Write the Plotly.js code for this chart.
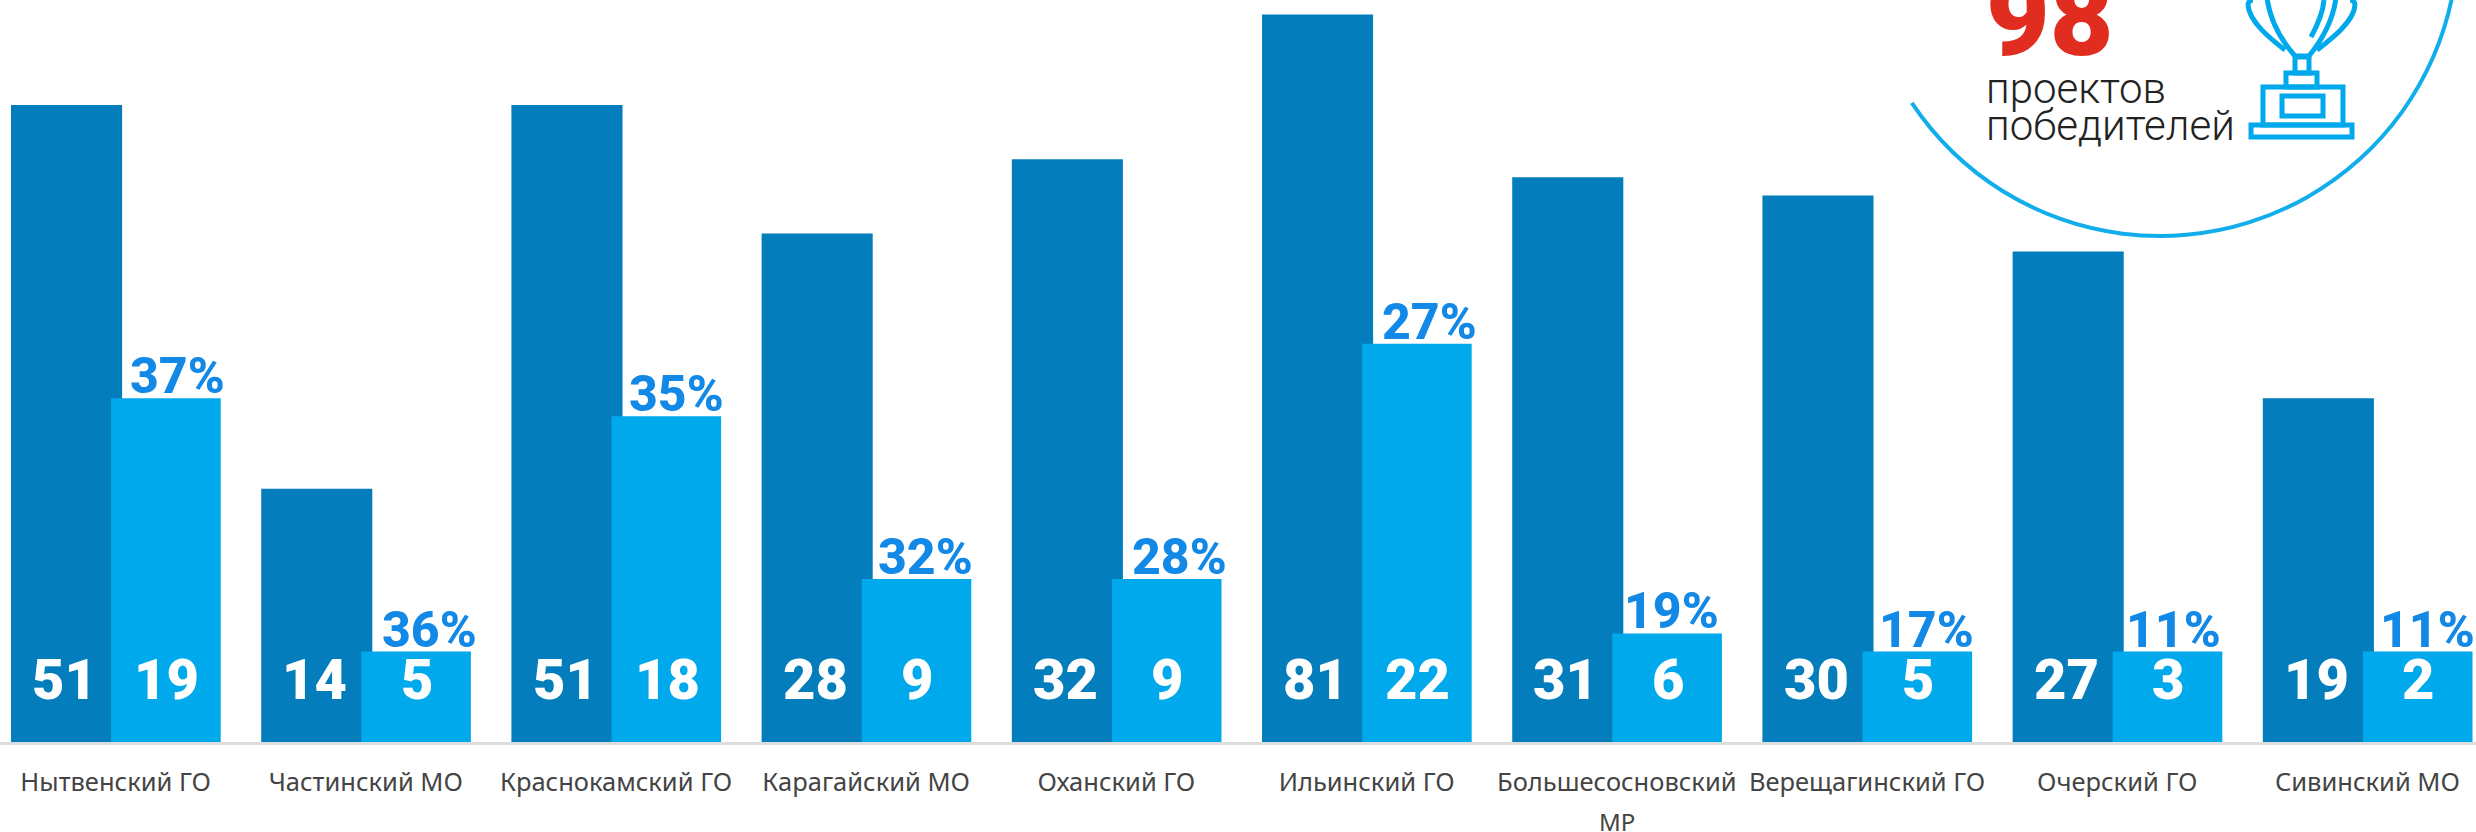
<!DOCTYPE html>
<html><head><meta charset="utf-8">
<script src="https://cdn.plot.ly/plotly-3.0.1.min.js"></script>
<style>html,body{margin:0;padding:0;background:#fff;overflow:hidden}</style></head>
<body><div id="c" style="width:2476px;height:832px"></div>
<script>
const categories = ["Нытвенский ГО","Частинский МО","Краснокамский ГО","Карагайский МО","Оханский ГО","Ильинский ГО","Большесосновский","Верещагинский ГО","Очерский ГО","Сивинский МО"];
// numbers printed on the bars
const submittedLabels = [51,14,51,28,32,81,31,30,27,19];
const winnerLabels = [19,5,18,9,9,22,6,5,3,2];
const sharePercent = [37,36,35,32,28,27,19,17,11,11];
// drawn bar heights (the reference truncates the tall bars and pads the short ones)
const submittedHeights = [35.2,14,35.2,28.1,32.2,40.2,31.2,30.2,27.1,19];
const winnerHeights = [19,5,18,9,9,22,6,5,5,5];
const shareShift = [11,13,9,8,12,12,4,8,5,9];

const W=2476, PH=742, BLUE='#00A9EC', DARK='#037DBB';
const X=p=>(p/W).toFixed(5), Y=p=>(1-p/PH).toFixed(5);
const line=(pts,close)=>pts.map((p,i)=>(i?'L':'M')+X(p[0])+','+Y(p[1])).join(' ')+(close?' Z':'');
const rect=(a,b,c,d)=>line([[a,b],[c,b],[c,d],[a,d]],true);
const cub=(a,b,c,d)=>'M'+X(a[0])+','+Y(a[1])+' C'+X(b[0])+','+Y(b[1])+' '+X(c[0])+','+Y(c[1])+' '+X(d[0])+','+Y(d[1]);
function arc(cx,cy,r,a0,a1){let s='',n=12,da=(a1-a0)/n,k=4/3*Math.tan(da/4);
  for(let i=0;i<n;i++){const t=a0+i*da,u=t+da,
    p0=[cx+r*Math.cos(t),cy+r*Math.sin(t)],p3=[cx+r*Math.cos(u),cy+r*Math.sin(u)],
    p1=[p0[0]-k*r*Math.sin(t),p0[1]+k*r*Math.cos(t)],p2=[p3[0]+k*r*Math.sin(u),p3[1]-k*r*Math.cos(u)];
    s+=(i?'':'M'+X(p0[0])+','+Y(p0[1]))+' C'+X(p1[0])+','+Y(p1[1])+' '+X(p2[0])+','+Y(p2[1])+' '+X(p3[0])+','+Y(p3[1]);}
  return s;}
const stroke=(path,w,c)=>({type:'path',xref:'paper',yref:'paper',path,line:{color:c||BLUE,width:w},layer:'above'});

const traces=[
 {type:'bar',x:categories,y:submittedHeights,width:0.444,offset:-0.418,marker:{color:DARK,line:{width:0}},hoverinfo:'skip',cliponaxis:false},
 {type:'bar',x:categories,y:winnerHeights,width:0.438,offset:-0.018,marker:{color:BLUE,line:{width:0}},hoverinfo:'skip',cliponaxis:false}
];
const valFont={family:'Roboto,sans-serif',size:56,color:'#fff',weight:900};
const ann=[];
categories.forEach((c,i)=>{
 ann.push({x:i,y:0,yshift:27,xshift:-51,text:String(submittedLabels[i]),showarrow:false,yanchor:'bottom',xanchor:'center',font:valFont});
 ann.push({x:i,y:0,yshift:27,xshift:51,text:String(winnerLabels[i]),showarrow:false,yanchor:'bottom',xanchor:'center',font:valFont});
 ann.push({x:i,y:winnerHeights[i],yshift:-9,xshift:51+shareShift[i],text:sharePercent[i]+'%',showarrow:false,yanchor:'bottom',xanchor:'center',
   font:{family:'Roboto,sans-serif',size:50,color:'#1289E6',weight:800}});
});
ann.push({x:6,y:0,yshift:-79,text:'МР',showarrow:false,yanchor:'middle',font:{family:'"Noto Sans",sans-serif',size:24,color:'#444'}});
ann.push({xref:'paper',yref:'paper',x:1984/W,y:Y(84),text:'98',showarrow:false,xanchor:'left',yanchor:'bottom',font:{family:'Roboto,sans-serif',size:110,color:'#E02D20',weight:900}});
ann.push({xref:'paper',yref:'paper',x:1984/W,y:Y(115),text:'проектов',showarrow:false,xanchor:'left',yanchor:'bottom',font:{family:'Roboto,sans-serif',size:42,color:'#222',weight:300}});
ann.push({xref:'paper',yref:'paper',x:1984/W,y:Y(152),text:'победителей',showarrow:false,xanchor:'left',yanchor:'bottom',font:{family:'Roboto,sans-serif',size:42,color:'#222',weight:300}});

const shapes=[
 stroke(arc(2160,-62,298,2.555,-0.02),4,'#12AEEC'),
 stroke(rect(2251,125,2352,137),5),
 stroke(rect(2263,87,2343,125),5),
 stroke(rect(2282,96,2323,116),5),
 stroke(rect(2286,73,2317,87),5),
 stroke(rect(2295,57,2309,73),5),
 stroke(cub([2295,56],[2281,40],[2270,20],[2267,-2]),5),
 stroke(cub([2309,56],[2322,40],[2333,20],[2336,-2]),5),
 stroke(line([[2295,56],[2309,56]]),5),
 stroke(cub([2285,50],[2272,40],[2249,22],[2248,5]),5),
 stroke(cub([2248,5],[2248,2],[2250,0],[2253,0]),5),
 stroke(cub([2317,50],[2330,40],[2354,22],[2355,5]),5),
 stroke(cub([2355,5],[2355,2],[2353,0],[2350,0]),5),
 stroke(cub([2324,0],[2323,12],[2317,26],[2311,37]),5)
];
const layout={width:W,height:832,margin:{l:0,r:0,t:0,b:90,pad:0},paper_bgcolor:'#fff',plot_bgcolor:'#fff',
 barmode:'overlay',showlegend:false,
 xaxis:{type:'category',range:[-0.462,9.434],fixedrange:true,tickangle:0,ticks:'',ticklabelstandoff:15,showgrid:false,
   showline:true,linecolor:'#DDDDDD',linewidth:3,zeroline:false,
   tickfont:{family:'"Noto Sans",sans-serif',size:25.5,color:'#444'}},
 yaxis:{range:[0,41],fixedrange:true,visible:false,showgrid:false,zeroline:false},
 annotations:ann,shapes};
Plotly.newPlot('c',traces,layout,{displayModeBar:false,staticPlot:true});
</script></body></html>
